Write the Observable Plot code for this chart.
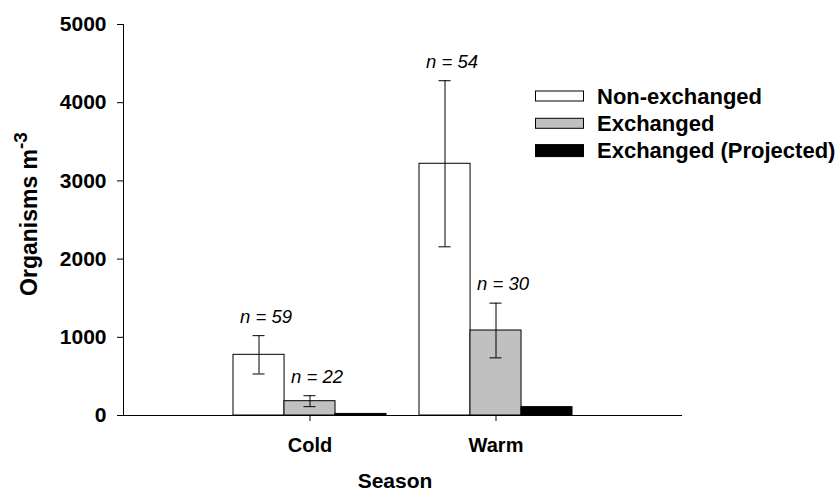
<!DOCTYPE html>
<html>
<head>
<meta charset="utf-8">
<script src="https://cdn.jsdelivr.net/npm/d3@7"></script>
<script src="https://cdn.jsdelivr.net/npm/@observablehq/plot@0.6"></script>
<style>
  html, body { margin: 0; padding: 0; background: #fff; }
  #chart svg { display: block; }
</style>
</head>
<body>
<div id="chart"></div>
<script>
const seasons = ["Cold", "Warm"];
const groups = ["Non-exchanged", "Exchanged", "Exchanged (Projected)"];
const nonExchangedMean = [776, 3219];
const nonExchangedSE = [245, 1062];
const nonExchangedN = [59, 54];
const exchangedMean = [183, 1087];
const exchangedSE = [70, 350];
const exchangedN = [22, 30];
const projectedMean = [20, 107];
const yTicks = [0, 1000, 2000, 3000, 4000, 5000];
const groupColors = ["#ffffff", "#c0c0c0", "#000000"];
const yLabel = "Organisms m";
const yLabelSup = "-3";
const xLabel = "Season";

const rows = seasons.flatMap((s, i) => [
  {season: s, group: groups[0], mean: nonExchangedMean[i], se: nonExchangedSE[i], n: nonExchangedN[i]},
  {season: s, group: groups[1], mean: exchangedMean[i], se: exchangedSE[i], n: exchangedN[i]},
  {season: s, group: groups[2], mean: projectedMean[i], se: null, n: null}
]);

const W = 836, H = 493, ML = 123, MR = 154, MT = 24, MB = 78;
const padInner = 0.179, padOuter = 0.59;
const step = (W - ML - MR) / (seasons.length - padInner + 2 * padOuter);
const band = step * (1 - padInner);
const sub = band / groups.length;
const capHalf = 6;

const marks = [];
groups.forEach((g, i) => {
  const gRows = rows.filter(d => d.group === g);
  marks.push(Plot.barY(gRows, {
    x: "season", y: "mean", fill: "group", stroke: "black", strokeWidth: 1,
    insetLeft: i * sub, insetRight: (groups.length - 1 - i) * sub
  }));
});
groups.forEach((g, i) => {
  const eRows = rows.filter(d => d.group === g && d.se != null);
  if (!eRows.length) return;
  const off = (i - (groups.length - 1) / 2) * sub;
  const capL = i * sub + sub / 2 - capHalf;
  const capR = (groups.length - 1 - i) * sub + sub / 2 - capHalf;
  marks.push(
    Plot.ruleX(eRows, {x: "season", y1: d => d.mean - d.se, y2: d => d.mean + d.se, dx: off, stroke: "black", strokeWidth: 1}),
    Plot.tickY(eRows, {x: "season", y: d => d.mean - d.se, insetLeft: capL, insetRight: capR, stroke: "black"}),
    Plot.tickY(eRows, {x: "season", y: d => d.mean + d.se, insetLeft: capL, insetRight: capR, stroke: "black"}),
    Plot.text(eRows, {x: "season", y: d => d.mean + d.se, text: d => `n = ${d.n}`, lineAnchor: "bottom",
      dy: -13, dx: off + 7, fontStyle: "italic", fontWeight: "normal", fontSize: 18.5, fill: "black"})
  );
});

const plot = Plot.plot({
  width: W, height: H,
  marginLeft: ML, marginRight: MR, marginTop: MT, marginBottom: MB,
  style: {fontFamily: "'Liberation Sans', Arial, sans-serif", fontSize: "20px", fontWeight: "bold", background: "white", color: "black", overflow: "visible"},
  x: {domain: seasons, paddingInner: padInner, paddingOuter: padOuter, label: null},
  y: {domain: [0, 5000], label: null},
  color: {domain: groups, range: groupColors},
  marks: [
    ...marks,
    Plot.ruleY([0], {stroke: "black"}),
    Plot.frame({anchor: "left", stroke: "black"}),
    Plot.axisY({ticks: yTicks, tickSize: 6, tickPadding: 11, label: null, tickFormat: d3.format("d"), fontSize: 21}),
    Plot.axisX({anchor: "bottom", tickSize: 6, tickPadding: 16, label: null, fontSize: 20})
  ]
});

document.getElementById("chart").appendChild(plot);

const svg = d3.select(plot);
const font = "'Liberation Sans', Arial, sans-serif";

const yt = svg.append("text")
  .attr("transform", `translate(37,214) rotate(-90)`)
  .attr("text-anchor", "middle")
  .attr("font-family", font)
  .attr("font-weight", "bold")
  .attr("font-size", 23)
  .attr("fill", "black");
yt.append("tspan").text(yLabel);
yt.append("tspan").attr("font-size", 19).attr("dy", -10).text(yLabelSup);

svg.append("text")
  .attr("x", 395).attr("y", 488)
  .attr("text-anchor", "middle")
  .attr("font-family", font)
  .attr("font-weight", "bold")
  .attr("font-size", 21)
  .attr("fill", "black")
  .text(xLabel);

const lg = svg.append("g").attr("transform", "translate(535,103.5)");
const swatchH = [10, 10, 12];
groups.forEach((g, i) => {
  const row = lg.append("g").attr("transform", `translate(0,${i * 27.3})`);
  row.append("rect").attr("x", 0.5).attr("y", -7.5 - swatchH[i] / 2).attr("width", 48).attr("height", swatchH[i])
    .attr("fill", groupColors[i]).attr("stroke", "black").attr("stroke-width", 1);
  row.append("text").attr("x", 62).attr("y", 0)
    .attr("text-anchor", "start")
    .attr("font-family", font).attr("font-weight", "bold").attr("font-size", 22)
    .attr("fill", "black").text(g);
});
</script>
</body>
</html>
